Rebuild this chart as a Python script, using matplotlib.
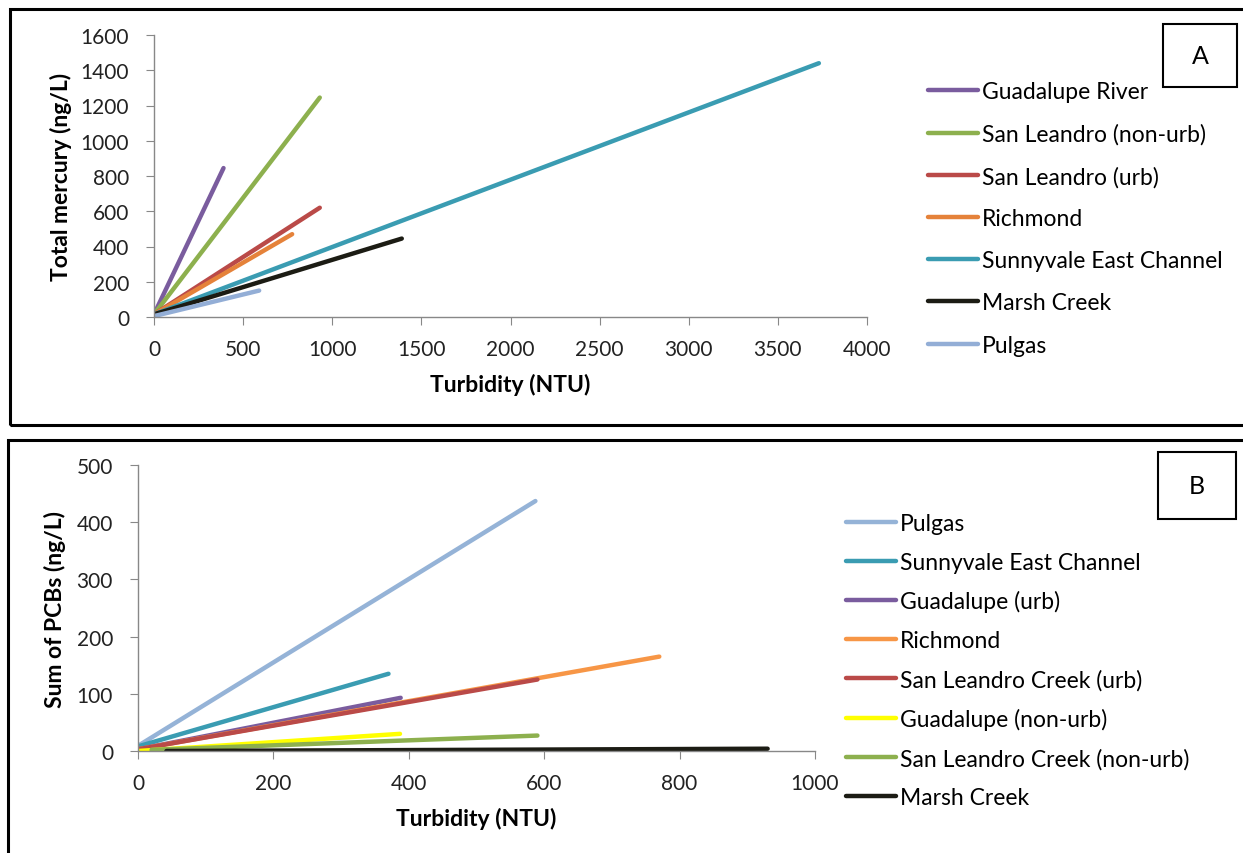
import matplotlib.pyplot as plt
from matplotlib.patches import Rectangle

plt.rcParams["font.family"] = ["Lato", "DejaVu Sans"]

# Panel A: total mercury vs turbidity (start/end of each regression line)
hg_sites = ["Guadalupe River", "San Leandro (non-urb)", "San Leandro (urb)",
            "Richmond", "Sunnyvale East Channel", "Marsh Creek", "Pulgas"]
hg_x0 = [0, 0, 0, 0, 0, 0, 0]
hg_x1 = [390, 930, 930, 775, 3730, 1390, 590]
hg_y0 = [15, 15, 15, 15, 15, 15, 5]
hg_y1 = [845, 1245, 620, 470, 1440, 445, 150]
hg_colors = ["#7A5C9E", "#8DB04E", "#BA4A48", "#E5823A", "#3A9CB2", "#1C1C14", "#93AED6"]

# Panel B: sum of PCBs vs turbidity
pcb_sites = ["Pulgas", "Sunnyvale East Channel", "Guadalupe (urb)", "Richmond",
             "San Leandro Creek (urb)", "Guadalupe (non-urb)",
             "San Leandro Creek (non-urb)", "Marsh Creek"]
pcb_x0 = [0, 0, 0, 0, 0, 0, 20, 42]
pcb_x1 = [587, 370, 388, 770, 590, 387, 590, 930]
pcb_y0 = [9, 8, 3, 3, 3, 0, 2, 0]
pcb_y1 = [437, 135, 93, 165, 125, 30, 27, 4]
pcb_colors = ["#95B3D7", "#3A9CB2", "#7A5C9E", "#F79646", "#BA4A48", "#FFFF00", "#8DB04E", "#1C1C14"]

W, H = 1243, 854
fig = plt.figure(figsize=(W / 100, H / 100), dpi=100)


def fx(px):
    return px / W


def fy(py):
    return 1 - py / H


def style_axes(ax):
    for s in ["top", "right"]:
        ax.spines[s].set_visible(False)
    for s in ["left", "bottom"]:
        ax.spines[s].set_color("#888888")
        ax.spines[s].set_linewidth(1.0)
    ax.tick_params(direction="out", length=6, color="#888888", labelsize=15,
                   labelcolor="#222222")
    ax.tick_params(axis="y", pad=12)
    ax.tick_params(axis="x", pad=10)


# outer frames around each panel
fig.patches.append(Rectangle((fx(10), fy(426)), fx(1250) - fx(10), fy(10) - fy(426),
                             transform=fig.transFigure, fill=False, lw=2.2, ec="black"))
fig.patches.append(Rectangle((fx(8), fy(860)), fx(1250) - fx(8), fy(441) - fy(860),
                             transform=fig.transFigure, fill=False, lw=2.2, ec="black"))

# ---- Panel A
axA = fig.add_axes([fx(154), fy(318), fx(867) - fx(154), fy(36) - fy(318)])
for x0, x1, y0, y1, c, name in zip(hg_x0, hg_x1, hg_y0, hg_y1, hg_colors, hg_sites):
    axA.plot([x0, x1], [y0, y1], color=c, lw=3.2, solid_capstyle="round", label=name)
axA.set_xlim(0, 4000)
axA.set_ylim(0, 1600)
axA.set_xticks(range(0, 4001, 500))
axA.set_yticks(range(0, 1601, 200))
style_axes(axA)
axA.set_xlabel("Turbidity (NTU)", fontsize=16.5, fontweight="bold", labelpad=10)
axA.set_ylabel("Total mercury (ng/L)", fontsize=16.5, fontweight="bold", labelpad=6)
fig.legend(*axA.get_legend_handles_labels(), loc="upper left",
           bbox_to_anchor=(fx(928), fy(82)), frameon=False, fontsize=16.5,
           handlelength=2.2, handletextpad=0.15, labelspacing=0.92,
           borderaxespad=0, borderpad=0)

# ---- Panel B
axB = fig.add_axes([fx(138), fy(752), fx(815) - fx(138), fy(466) - fy(752)])
for x0, x1, y0, y1, c, name in zip(pcb_x0, pcb_x1, pcb_y0, pcb_y1, pcb_colors, pcb_sites):
    axB.plot([x0, x1], [y0, y1], color=c, lw=3.2, solid_capstyle="round", label=name)
axB.set_xlim(0, 1000)
axB.set_ylim(0, 500)
axB.set_xticks(range(0, 1001, 200))
axB.set_yticks(range(0, 501, 100))
style_axes(axB)
axB.set_xlabel("Turbidity (NTU)", fontsize=16.5, fontweight="bold", labelpad=10)
axB.set_ylabel("Sum of PCBs (ng/L)", fontsize=16.5, fontweight="bold", labelpad=8)
fig.legend(*axB.get_legend_handles_labels(), loc="upper left",
           bbox_to_anchor=(fx(846), fy(514)), frameon=False, fontsize=16.5,
           handlelength=2.2, handletextpad=0.15, labelspacing=0.77,
           borderaxespad=0, borderpad=0)

# panel letters in small boxes
for (l, t, r, b), letter in [((1163, 25, 1237, 88), "A"), ((1158, 453, 1236, 520), "B")]:
    fig.patches.append(Rectangle((fx(l), fy(b)), fx(r) - fx(l), fy(t) - fy(b),
                                 transform=fig.transFigure, fill=False, lw=1.5, ec="black"))
    fig.text(fx((l + r) / 2), fy((t + b) / 2), letter, ha="center", va="center", fontsize=18)

fig.savefig("out.png", dpi=100)
